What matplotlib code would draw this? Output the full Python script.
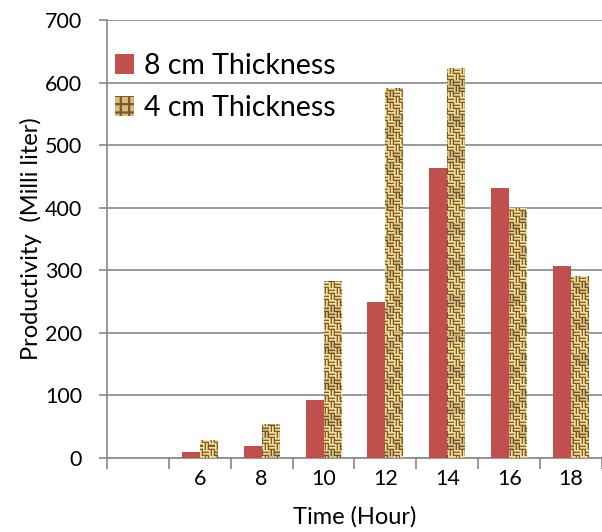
import numpy as np
import matplotlib
matplotlib.use("Agg")
from matplotlib import pyplot as plt

# hours (first category is empty in the original chart)
hours = ["", "6", "8", "10", "12", "14", "16", "18"]
thick8 = [0, 10, 20, 92, 249, 463, 432, 307]
thick4 = [0, 29, 55, 283, 591, 623, 399, 291]

plt.rcParams["font.family"] = ["Lato", "DejaVu Sans"]
plt.rcParams["hatch.color"] = "#7a5a2a"
plt.rcParams["hatch.linewidth"] = 1.6

grid_col = "#878787"


def burlap(nx, ny):
    # basket weave texture, one array cell per screen pixel
    j, i = np.meshgrid(np.arange(nx), np.arange(ny))
    block = ((i // 6) + (j // 6)) % 2
    thread = np.where(block == 0, i % 3, j % 3)
    shade = np.array([
        [0.96, 0.88, 0.64],
        [0.84, 0.71, 0.45],
        [0.50, 0.37, 0.15],
    ])
    img = shade[thread]
    # slightly darker rows of blocks for an uneven look
    dim = np.where(((i // 12) + (j // 18)) % 3 == 0, 0.88, 1.0)
    return img * dim[..., None]


fig = plt.figure(figsize=(6.02, 5.32), dpi=100)
ax = fig.add_axes([0.1777, 0.139, 0.8223, 0.8235])

x = np.arange(len(hours))
w = 0.29
ax.bar(x - w / 2, thick8, w, color="#c0504d", label="8 cm Thickness", zorder=3)
bars4 = ax.bar(x + w / 2, thick4, w, facecolor="#d8bb7c", edgecolor="#7a5a2a", linewidth=0,
               hatch="++", label="4 cm Thickness", zorder=3)

ax.set_xlim(-0.5, len(hours) - 0.5)
ax.set_ylim(0, 700)

tex = burlap(496, 440)
for b in bars4:
    im = ax.imshow(tex, extent=(-0.5, len(hours) - 0.5, 0, 700), aspect="auto",
                   interpolation="nearest", zorder=3.5)
    im.set_clip_path(b)

ax.set_yticks(range(0, 701, 100))
ax.yaxis.grid(True, color=grid_col, linewidth=1.2, zorder=0)
ax.set_axisbelow(True)

ax.set_xticks(x)
ax.set_xticklabels(hours)
ax.set_xticks(np.arange(-0.5, len(hours), 1), minor=True)
ax.tick_params(axis="x", which="major", length=0, pad=8, labelsize=15.5)
ax.tick_params(axis="x", which="minor", length=8, width=1.2, color=grid_col, direction="out")
ax.tick_params(axis="y", length=6, width=1.2, color=grid_col, pad=12, labelsize=15.5)

for s in ["top", "right"]:
    ax.spines[s].set_visible(False)
for s in ["left", "bottom"]:
    ax.spines[s].set_color(grid_col)
    ax.spines[s].set_linewidth(1.2)

ax.set_xlabel("Time (Hour)", fontsize=17)
ax.xaxis.set_label_coords(0.5, -0.11)
ax.set_ylabel("Productivity  (Milli liter)", fontsize=17, labelpad=2)

ax.legend(loc="upper left", bbox_to_anchor=(-0.025, 0.97), fontsize=20.5, frameon=False,
          handlelength=0.7, handleheight=0.7, handletextpad=0.35, labelspacing=0.55,
          borderaxespad=0.3)

fig.savefig("out.png", dpi=100)
